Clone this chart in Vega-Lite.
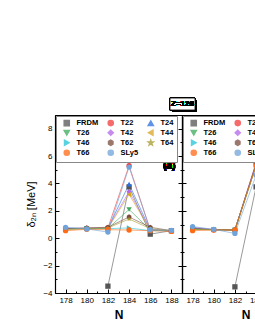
{
  "$schema": "https://vega.github.io/schema/vega-lite/v6.json",
  "padding": {"left": 25, "top": 97, "right": 0, "bottom": 0},
  "spacing": 0,
  "bounds": "flush",
  "datasets": {
    "vals": [
      {"p":"a","m":"FRDM","N":182,"d":-3.5},{"p":"a","m":"FRDM","N":184,"d":3.75},{"p":"a","m":"FRDM","N":186,"d":0.3},{"p":"a","m":"FRDM","N":188,"d":0.55},
      {"p":"a","m":"T22","N":178,"d":0.7},{"p":"a","m":"T22","N":180,"d":0.72},{"p":"a","m":"T22","N":182,"d":0.75},{"p":"a","m":"T22","N":184,"d":5.3},{"p":"a","m":"T22","N":186,"d":0.6},{"p":"a","m":"T22","N":188,"d":0.55},
      {"p":"a","m":"T24","N":178,"d":0.72},{"p":"a","m":"T24","N":180,"d":0.72},{"p":"a","m":"T24","N":182,"d":0.72},{"p":"a","m":"T24","N":184,"d":3.95},{"p":"a","m":"T24","N":186,"d":0.6},{"p":"a","m":"T24","N":188,"d":0.55},
      {"p":"a","m":"T26","N":178,"d":0.68},{"p":"a","m":"T26","N":180,"d":0.72},{"p":"a","m":"T26","N":182,"d":0.72},{"p":"a","m":"T26","N":184,"d":2.1},{"p":"a","m":"T26","N":186,"d":0.6},{"p":"a","m":"T26","N":188,"d":0.55},
      {"p":"a","m":"T42","N":178,"d":0.72},{"p":"a","m":"T42","N":180,"d":0.72},{"p":"a","m":"T42","N":182,"d":0.75},{"p":"a","m":"T42","N":184,"d":3.4},{"p":"a","m":"T42","N":186,"d":0.62},{"p":"a","m":"T42","N":188,"d":0.55},
      {"p":"a","m":"T44","N":178,"d":0.65},{"p":"a","m":"T44","N":180,"d":0.7},{"p":"a","m":"T44","N":182,"d":0.72},{"p":"a","m":"T44","N":184,"d":3.2},{"p":"a","m":"T44","N":186,"d":0.6},{"p":"a","m":"T44","N":188,"d":0.55},
      {"p":"a","m":"T46","N":178,"d":0.68},{"p":"a","m":"T46","N":180,"d":0.7},{"p":"a","m":"T46","N":182,"d":0.7},{"p":"a","m":"T46","N":184,"d":0.75},{"p":"a","m":"T46","N":186,"d":0.55},{"p":"a","m":"T46","N":188,"d":0.55},
      {"p":"a","m":"T62","N":178,"d":0.7},{"p":"a","m":"T62","N":180,"d":0.75},{"p":"a","m":"T62","N":182,"d":0.8},{"p":"a","m":"T62","N":184,"d":1.55},{"p":"a","m":"T62","N":186,"d":0.8},{"p":"a","m":"T62","N":188,"d":0.55},
      {"p":"a","m":"T64","N":178,"d":0.65},{"p":"a","m":"T64","N":180,"d":0.7},{"p":"a","m":"T64","N":182,"d":0.75},{"p":"a","m":"T64","N":184,"d":1.4},{"p":"a","m":"T64","N":186,"d":0.7},{"p":"a","m":"T64","N":188,"d":0.55},
      {"p":"a","m":"T66","N":178,"d":0.55},{"p":"a","m":"T66","N":180,"d":0.65},{"p":"a","m":"T66","N":182,"d":0.62},{"p":"a","m":"T66","N":184,"d":0.6},{"p":"a","m":"T66","N":186,"d":0.55},{"p":"a","m":"T66","N":188,"d":0.5},
      {"p":"a","m":"SLy5","N":178,"d":0.8},{"p":"a","m":"SLy5","N":180,"d":0.68},{"p":"a","m":"SLy5","N":182,"d":0.45},{"p":"a","m":"SLy5","N":184,"d":5.2},{"p":"a","m":"SLy5","N":186,"d":0.62},{"p":"a","m":"SLy5","N":188,"d":0.58},
      {"p":"b","m":"FRDM","N":182,"d":-3.55},{"p":"b","m":"FRDM","N":184,"d":3.75},{"p":"b","m":"FRDM","N":186,"d":0.4},{"p":"b","m":"FRDM","N":188,"d":0.6},
      {"p":"b","m":"T22","N":178,"d":0.75},{"p":"b","m":"T22","N":180,"d":0.62},{"p":"b","m":"T22","N":182,"d":0.6},{"p":"b","m":"T22","N":184,"d":5.5},{"p":"b","m":"T22","N":186,"d":0.6},{"p":"b","m":"T22","N":188,"d":0.55},
      {"p":"b","m":"T24","N":178,"d":0.7},{"p":"b","m":"T24","N":180,"d":0.62},{"p":"b","m":"T24","N":182,"d":0.6},{"p":"b","m":"T24","N":184,"d":5.4},{"p":"b","m":"T24","N":186,"d":0.6},{"p":"b","m":"T24","N":188,"d":0.55},
      {"p":"b","m":"T26","N":178,"d":0.65},{"p":"b","m":"T26","N":180,"d":0.62},{"p":"b","m":"T26","N":182,"d":0.6},{"p":"b","m":"T26","N":184,"d":5.4},{"p":"b","m":"T26","N":186,"d":0.6},{"p":"b","m":"T26","N":188,"d":0.55},
      {"p":"b","m":"T42","N":178,"d":0.8},{"p":"b","m":"T42","N":180,"d":0.63},{"p":"b","m":"T42","N":182,"d":0.6},{"p":"b","m":"T42","N":184,"d":5.5},{"p":"b","m":"T42","N":186,"d":0.6},{"p":"b","m":"T42","N":188,"d":0.55},
      {"p":"b","m":"T44","N":178,"d":0.65},{"p":"b","m":"T44","N":180,"d":0.62},{"p":"b","m":"T44","N":182,"d":0.6},{"p":"b","m":"T44","N":184,"d":5.3},{"p":"b","m":"T44","N":186,"d":0.6},{"p":"b","m":"T44","N":188,"d":0.55},
      {"p":"b","m":"T46","N":178,"d":0.7},{"p":"b","m":"T46","N":180,"d":0.62},{"p":"b","m":"T46","N":182,"d":0.6},{"p":"b","m":"T46","N":184,"d":5.3},{"p":"b","m":"T46","N":186,"d":0.6},{"p":"b","m":"T46","N":188,"d":0.55},
      {"p":"b","m":"T62","N":178,"d":0.72},{"p":"b","m":"T62","N":180,"d":0.63},{"p":"b","m":"T62","N":182,"d":0.6},{"p":"b","m":"T62","N":184,"d":5.4},{"p":"b","m":"T62","N":186,"d":0.6},{"p":"b","m":"T62","N":188,"d":0.55},
      {"p":"b","m":"T64","N":178,"d":0.65},{"p":"b","m":"T64","N":180,"d":0.62},{"p":"b","m":"T64","N":182,"d":0.6},{"p":"b","m":"T64","N":184,"d":5.3},{"p":"b","m":"T64","N":186,"d":0.6},{"p":"b","m":"T64","N":188,"d":0.55},
      {"p":"b","m":"T66","N":178,"d":0.55},{"p":"b","m":"T66","N":180,"d":0.6},{"p":"b","m":"T66","N":182,"d":0.6},{"p":"b","m":"T66","N":184,"d":5.3},{"p":"b","m":"T66","N":186,"d":0.6},{"p":"b","m":"T66","N":188,"d":0.55},
      {"p":"b","m":"SLy5","N":178,"d":0.85},{"p":"b","m":"SLy5","N":180,"d":0.65},{"p":"b","m":"SLy5","N":182,"d":0.35},{"p":"b","m":"SLy5","N":184,"d":4.6},{"p":"b","m":"SLy5","N":186,"d":0.6},{"p":"b","m":"SLy5","N":188,"d":0.55}
    ]
  },
  "hconcat": [
    {
      "width": 127, "height": 178,
      "data": {"name": "vals"},
      "transform": [{"filter": "datum.p === 'a'"}],
      "layer": [
        {
          "mark": {"type": "line", "strokeWidth": 0.8, "opacity": 0.75},
          "encoding": {
            "x": {"field": "N", "type": "quantitative", "scale": {"domain": [177, 189], "nice": false, "zero": false},
                  "axis": {"orient": "bottom", "title": "N", "values": [177,178,179,180,181,182,183,184,185,186,187,188,189], "labelExpr": "datum.value % 2 === 0 ? datum.label : ''", "tickSize": {"condition": {"test": "datum.value % 2 === 0", "value": -4}, "value": -2}, "labelPadding": 7, "titleFontSize": 12, "titleFontWeight": "bold", "titlePadding": 5}},
            "y": {"field": "d", "type": "quantitative", "scale": {"domain": [-4, 9], "nice": false, "zero": false},
                  "axis": {"orient": "left", "title": "δ₂ₙ [MeV]", "values": [-4,-3,-2,-1,0,1,2,3,4,5,6,7,8,9], "labelExpr": "datum.value % 2 === 0 ? datum.label : ''", "tickSize": {"condition": {"test": "datum.value % 2 === 0", "value": -4}, "value": -2}, "labelPadding": 7, "titleFontSize": 11, "titleFontWeight": "normal", "titlePadding": 6}},
            "color": {"field": "m", "type": "nominal",
                      "legend": {"title": null, "direction": "horizontal"},
                      "scale": {"domain": ["FRDM","T22","T24","T26","T42","T44","T46","T62","T64","T66","SLy5"],
                                "range": ["#555555","#F23A3A","#2B6FE0","#3DAA5C","#B266E8","#D9A521","#22C5D5","#7A4A3C","#A69A2E","#FF6A14","#6FA3DA"]}}
          }
        },
        {
          "mark": {"type": "point", "filled": true, "size": 28, "opacity": 1},
          "encoding": {
            "x": {"field": "N", "type": "quantitative", "axis": {"orient": "top", "title": null, "labels": false, "values": [177,178,179,180,181,182,183,184,185,186,187,188,189], "tickSize": {"condition": {"test": "datum.value % 2 === 0", "value": -4}, "value": -2}}},
            "y": {"field": "d", "type": "quantitative", "axis": {"orient": "right", "title": null, "labels": false, "values": [-4,-3,-2,-1,0,1,2,3,4,5,6,7,8,9], "tickSize": {"condition": {"test": "datum.value % 2 === 0", "value": -4}, "value": -2}}},
            "color": {"field": "m", "type": "nominal", "legend": {"title": null, "direction": "horizontal"}},
            "shape": {"field": "m", "type": "nominal",
                      "legend": {"title": null, "direction": "horizontal"},
                      "scale": {"domain": ["FRDM","T22","T24","T26","T42","T44","T46","T62","T64","T66","SLy5"],
                                "range": ["square","circle","triangle-up","triangle-down","diamond","triangle-left","triangle-right","M0,-1L0.866,-0.5L0.866,0.5L0,1L-0.866,0.5L-0.866,-0.5Z","M0,-1L0.235,-0.324L0.951,-0.309L0.38,0.124L0.588,0.809L0,0.4L-0.588,0.809L-0.38,0.124L-0.951,-0.309L-0.235,-0.324Z","circle","circle"]}}
          }
        },
        {
          "mark": {"type": "text", "text": "(a)", "fontSize": 10, "fontWeight": "bold", "font": "Liberation Sans", "color": "black"},
          "encoding": {"x": {"datum": 187.8, "axis": null}, "y": {"datum": 5.3, "axis": null}}
        }
      ],
      "resolve": {"axis": {"x": "independent", "y": "independent"}}
    },
    {
      "width": 127, "height": 178,
      "data": {"name": "vals"},
      "transform": [{"filter": "datum.p === 'b'"}],
      "layer": [
        {
          "mark": {"type": "line", "strokeWidth": 0.8, "opacity": 0.75},
          "encoding": {
            "x": {"field": "N", "type": "quantitative", "scale": {"domain": [177, 189], "nice": false, "zero": false},
                  "axis": {"orient": "bottom", "title": "N", "values": [177,178,179,180,181,182,183,184,185,186,187,188,189], "labelExpr": "datum.value % 2 === 0 ? datum.label : ''", "tickSize": {"condition": {"test": "datum.value % 2 === 0", "value": -4}, "value": -2}, "labelPadding": 7, "titleFontSize": 12, "titleFontWeight": "bold", "titlePadding": 5}},
            "y": {"field": "d", "type": "quantitative", "scale": {"domain": [-4, 9], "nice": false, "zero": false},
                  "axis": {"orient": "left", "title": null, "labels": false, "values": [-4,-3,-2,-1,0,1,2,3,4,5,6,7,8,9], "tickSize": {"condition": {"test": "datum.value % 2 === 0", "value": -4}, "value": -2}}},
            "color": {"field": "m", "type": "nominal",
                      "legend": {"title": null, "direction": "horizontal"},
                      "scale": {"domain": ["FRDM","T22","T24","T26","T42","T44","T46","T62","T64","T66","SLy5"],
                                "range": ["#555555","#F23A3A","#2B6FE0","#3DAA5C","#B266E8","#D9A521","#22C5D5","#7A4A3C","#A69A2E","#FF6A14","#6FA3DA"]}}
          }
        },
        {
          "mark": {"type": "point", "filled": true, "size": 28, "opacity": 1},
          "encoding": {
            "x": {"field": "N", "type": "quantitative", "axis": {"orient": "top", "title": null, "labels": false, "values": [177,178,179,180,181,182,183,184,185,186,187,188,189], "tickSize": {"condition": {"test": "datum.value % 2 === 0", "value": -4}, "value": -2}}},
            "y": {"field": "d", "type": "quantitative", "axis": null},
            "color": {"field": "m", "type": "nominal", "legend": {"title": null, "direction": "horizontal"}},
            "shape": {"field": "m", "type": "nominal",
                      "legend": {"title": null, "direction": "horizontal"},
                      "scale": {"domain": ["FRDM","T22","T24","T26","T42","T44","T46","T62","T64","T66","SLy5"],
                                "range": ["square","circle","triangle-up","triangle-down","diamond","triangle-left","triangle-right","M0,-1L0.866,-0.5L0.866,0.5L0,1L-0.866,0.5L-0.866,-0.5Z","M0,-1L0.235,-0.324L0.951,-0.309L0.38,0.124L0.588,0.809L0,0.4L-0.588,0.809L-0.38,0.124L-0.951,-0.309L-0.235,-0.324Z","circle","circle"]}}
          }
        },
        {
          "mark": {"type": "text", "text": "(b)", "fontSize": 10, "fontWeight": "bold", "font": "Liberation Sans", "color": "black"},
          "encoding": {"x": {"datum": 187.8, "axis": null}, "y": {"datum": 5.3, "axis": null}}
        },
        {
          "mark": {"type": "rect", "color": "black"},
          "encoding": {"x": {"datum": 176.055, "axis": null}, "x2": {"datum": 178.42}, "y": {"datum": 10.096, "axis": null}, "y2": {"datum": 9.219}}
        },
        {
          "mark": {"type": "rect", "fill": "white", "stroke": "black", "strokeWidth": 0.8},
          "encoding": {"x": {"datum": 175.866, "axis": null}, "x2": {"datum": 178.229}, "y": {"datum": 10.24, "axis": null}, "y2": {"datum": 9.365}}
        },
        {
          "mark": {"type": "text", "text": "Z=126", "fontSize": 8, "fontWeight": "bold", "font": "Liberation Sans", "color": "black"},
          "encoding": {"x": {"datum": 177.047, "axis": null}, "y": {"datum": 9.8, "axis": null}}
        }
      ],
      "resolve": {"axis": {"x": "independent", "y": "independent"}}
    }
  ],
  "resolve": {"scale": {"color": "independent", "shape": "independent"}, "legend": {"color": "independent", "shape": "independent"}},
  "config": {
    "view": {"stroke": null},
    "axis": {"domainColor": "black", "domainWidth": 1.2, "tickColor": "black", "tickWidth": 1, "labelFont": "Liberation Sans", "labelFontSize": 8, "labelColor": "black", "titleFont": "Liberation Sans", "titleColor": "black", "grid": false},
    "legend": {"orient": "top-left", "offset": 1, "columns": 3, "direction": "horizontal", "strokeColor": "#888888", "fillColor": "white", "padding": 3, "labelFont": "Liberation Sans", "labelFontSize": 7.5, "labelFontWeight": "bold", "labelColor": "black", "symbolSize": 26, "symbolOffset": 4, "rowPadding": -3, "columnPadding": 4, "labelOffset": 6}
  }
}
